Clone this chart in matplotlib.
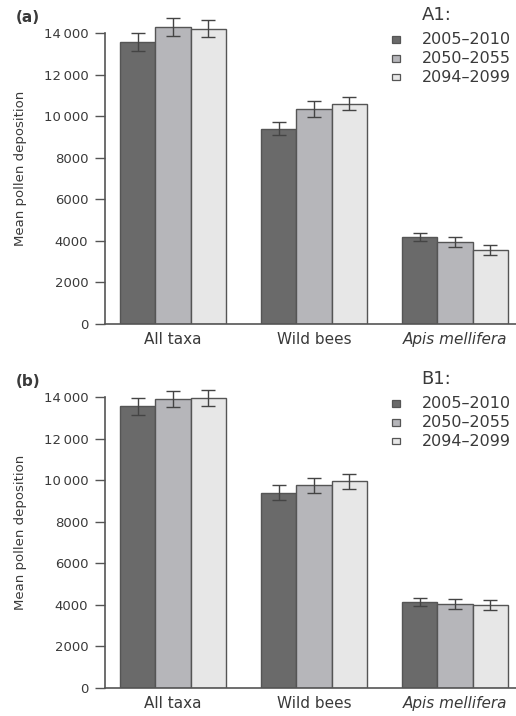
import numpy as np
import matplotlib
matplotlib.use("Agg")
import matplotlib.pyplot as plt
from matplotlib.patches import Rectangle
from matplotlib.ticker import FuncFormatter

# Données : dépôt moyen de pollen par groupe et par période
groupes = ["All taxa", "Wild bees", "Apis mellifera"]
periodes = ["2005\u20132010", "2050\u20132055", "2094\u20132099"]

# Scénario A1
a1_moy = {
    "2005\u20132010": [13550, 9400, 4200],
    "2050\u20132055": [14300, 10350, 3950],
    "2094\u20132099": [14200, 10600, 3550],
}
a1_err = {
    "2005\u20132010": [430, 330, 200],
    "2050\u20132055": [430, 380, 250],
    "2094\u20132099": [400, 330, 250],
}

# Scénario B1
b1_moy = {
    "2005\u20132010": [13550, 9400, 4150],
    "2050\u20132055": [13900, 9750, 4050],
    "2094\u20132099": [13950, 9950, 4000],
}
b1_err = {
    "2005\u20132010": [400, 380, 200],
    "2050\u20132055": [370, 370, 250],
    "2094\u20132099": [400, 360, 250],
}

couleurs = ["#6a6a6a", "#b6b6ba", "#e7e7e7"]
cinza = "#555555"
texto = "#3a3a3a"

plt.rcParams["font.family"] = ["DejaVu Sans"]

fig = plt.figure(figsize=(5.16, 7.16), dpi=100)
ax_a = fig.add_axes([0.2035, 0.5475, 0.7965, 0.4355])
ax_b = fig.add_axes([0.2035, 0.0391, 0.7965, 0.4355])

def milhar(v, pos):
    v = int(v)
    if v >= 10000:
        return f"{v // 1000}\u2009{v % 1000:03d}"
    return str(v)

def painel(ax, medias, erros, letra, cenario):
    x = np.arange(len(groupes))
    larg = 0.25
    for i, p in enumerate(periodes):
        pos = x + (i - 1) * larg
        ax.bar(pos, medias[p], width=larg, color=couleurs[i],
               edgecolor=cinza, linewidth=1.0, zorder=2)
        ax.errorbar(pos, medias[p], yerr=erros[p], fmt="none",
                    ecolor="#444444", elinewidth=1.0, capsize=4.7,
                    capthick=1.0, zorder=3)

    ax.set_xlim(-0.482, 2.433)
    ax.set_ylim(0, 15000)
    ax.set_yticks(np.arange(0, 14001, 2000))
    ax.yaxis.set_major_formatter(FuncFormatter(milhar))
    ax.spines["left"].set_bounds(0, 14000)
    ax.spines["top"].set_visible(False)
    ax.spines["right"].set_visible(False)
    for s in ["left", "bottom"]:
        ax.spines[s].set_color(cinza)
        ax.spines[s].set_linewidth(1.2)
    ax.tick_params(axis="y", length=7, width=1, color=cinza,
                   labelsize=9.5, labelcolor=texto, pad=5)
    ax.set_xticks(x)
    ax.set_xticklabels(groupes, fontsize=11, color=texto)
    ax.get_xticklabels()[2].set_style("italic")
    ax.tick_params(axis="x", length=0, pad=6)
    ax.set_ylabel("Mean pollen deposition", fontsize=9.5, color=texto,
                  labelpad=12)

    # Letra do painel
    ax.text(-0.217, 0.983, letra, transform=ax.transAxes, fontsize=11,
            fontweight="bold", color=texto, ha="left", va="center")

    # Legenda feita à mão
    ax.text(0.77, 0.99, cenario, transform=ax.transAxes, fontsize=13,
            color=texto, ha="left", va="center")
    for i, p in enumerate(periodes):
        yy = 0.912 - i * 0.06
        ax.add_patch(Rectangle((0.698, yy - 0.011), 0.0195, 0.022,
                               transform=ax.transAxes, facecolor=couleurs[i],
                               edgecolor=cinza, linewidth=0.9, clip_on=False))
        ax.text(0.77, yy, p, transform=ax.transAxes, fontsize=11.5,
                color=texto, ha="left", va="center")

painel(ax_a, a1_moy, a1_err, "(a)", "A1:")
painel(ax_b, b1_moy, b1_err, "(b)", "B1:")

fig.savefig("out.png", dpi=100)
